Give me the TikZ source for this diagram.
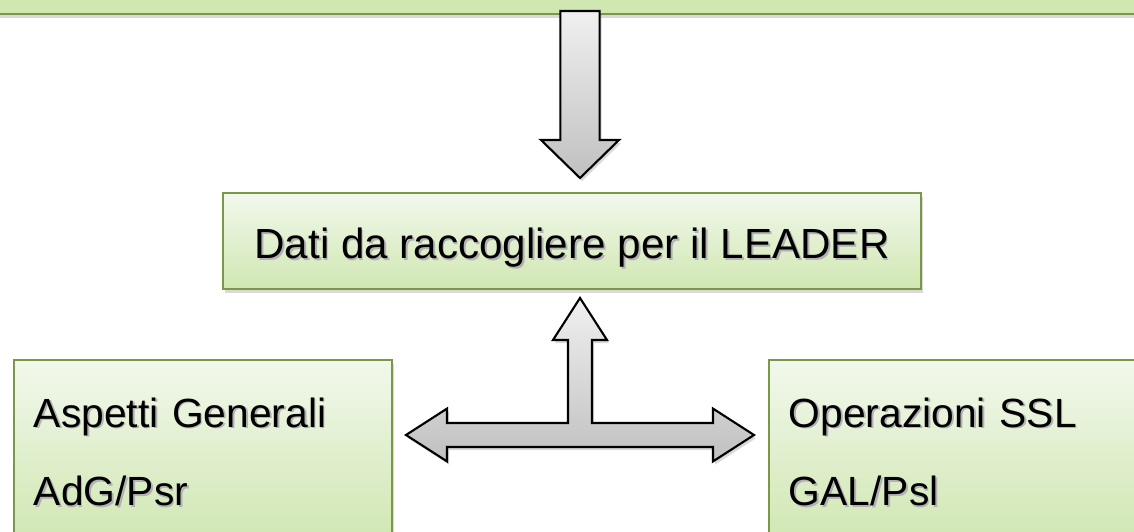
\documentclass[tikz,border=0pt]{standalone}
\RequirePackage{fontspec}
\setmainfont{Liberation Sans}
\RequirePackage{tikz}
\RequirePackage{tkz-euclide}
\usetikzlibrary{shadows}

\definecolor{boxline}{RGB}{122,152,72}
\definecolor{boxtop}{RGB}{242,248,236}
\definecolor{boxbot}{RGB}{208,231,178}
\definecolor{arrtop}{RGB}{240,240,240}
\definecolor{arrbot}{RGB}{192,192,192}

\newcommand{\shd}[1]{\leavevmode\rlap{\kern1.3pt\raisebox{-1.3pt}{\textcolor{black!30}{#1}}}#1}

\tikzset{
  greenbox/.style={draw=boxline, line width=1.3pt, top color=boxtop, bottom color=boxbot,
    drop shadow={shadow xshift=0.05cm, shadow yshift=-0.09cm, opacity=0.3}},
  blockarrow/.style={draw=black, line width=1.5pt, line join=miter, top color=arrtop, bottom color=arrbot,
    drop shadow={shadow xshift=0.05cm, shadow yshift=-0.08cm, opacity=0.3}},
  twolines/.style={greenbox, anchor=north west, align=left, inner xsep=0.5cm, inner ysep=0.3cm,
    font=\fontsize{29}{56}\selectfont}
}

\begin{document}
\begin{tikzpicture}
                    \useasboundingbox (0,0) rectangle (28.35,13.275);

                    % box at the top, only its lower edge is seen
                    \node[greenbox, top color=boxbot, minimum width=29.5cm, minimum height=2cm, anchor=south] (fonti) at (14.175,12.9) {};

                    % arrow going down
                    \tkzDefPoint(14.01,13.0){D1}
                    \tkzDefPoint(14.99,13.0){D2}
                    \tkzDefPoint(14.99,9.775){D3}
                    \tkzDefPoint(15.475,9.775){D4}
                    \tkzDefPoint(14.5,8.825){D5}
                    \tkzDefPoint(13.525,9.775){D6}
                    \tkzDefPoint(14.01,9.775){D7}
                    \tkzDrawPolygon[blockarrow](D1,D2,D3,D4,D5,D6,D7)

                    \node[greenbox, minimum width=17.45cm, minimum height=2.4cm, text height=1.1cm, text depth=0.2cm,
                          font=\fontsize{30}{36}\selectfont] (leader) at (14.3,7.25) {\shd{Dati da raccogliere per il LEADER}};

                    % arrow up and both sides
                    \tkzDefPoint(14.5,5.825){T1}
                    \tkzDefPoint(15.175,4.775){T2}
                    \tkzDefPoint(14.8,4.775){T3}
                    \tkzDefPoint(14.8,2.7){T4}
                    \tkzDefPoint(17.825,2.7){T5}
                    \tkzDefPoint(17.825,3.06){T6}
                    \tkzDefPoint(18.85,2.4){T7}
                    \tkzDefPoint(17.825,1.74){T8}
                    \tkzDefPoint(17.825,2.1){T9}
                    \tkzDefPoint(11.175,2.1){T10}
                    \tkzDefPoint(11.175,1.74){T11}
                    \tkzDefPoint(10.15,2.4){T12}
                    \tkzDefPoint(11.175,3.06){T13}
                    \tkzDefPoint(11.175,2.7){T14}
                    \tkzDefPoint(14.2,2.7){T15}
                    \tkzDefPoint(14.2,4.775){T16}
                    \tkzDefPoint(13.825,4.775){T17}
                    \tkzDrawPolygon[blockarrow](T1,T2,T3,T4,T5,T6,T7,T8,T9,T10,T11,T12,T13,T14,T15,T16,T17)

                    \node[twolines, text width=8.45cm] (generali) at (0.325,4.3)
                          {\strut\shd{Aspetti Generali}\\ \strut\shd{AdG/Psr}};
                    \node[twolines, text width=9.4cm] (ssl) at (19.2,4.3)
                          {\strut\shd{Operazioni SSL}\\ \strut\shd{GAL/Psl}};
                \end{tikzpicture}
\end{document}
